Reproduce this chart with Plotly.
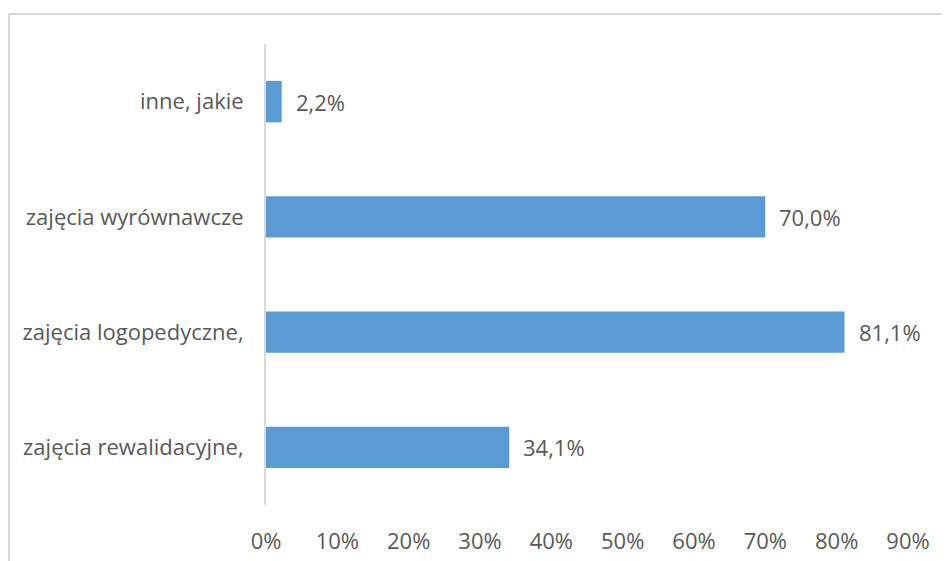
import plotly.graph_objects as go

categories = ["zajęcia rewalidacyjne,", "zajęcia logopedyczne,", "zajęcia wyrównawcze", "inne, jakie"]
values = [34.1, 81.1, 70.0, 2.2]
tick_vals = [0, 10, 20, 30, 40, 50, 60, 70, 80, 90]
tick_text = [f"{v}%" for v in tick_vals]
labels = [f"{v:.1f}%".replace(".", ",") for v in values]

FONT = "Open Sans"
GRAY = "#595959"
FS = 22

fig = go.Figure()
fig.add_trace(go.Bar(
    y=categories, x=values, orientation="h",
    marker=dict(color="#5B9BD5", line=dict(width=0)),
    width=0.36, hoverinfo="skip",
))

for c, v, t in zip(categories, values, labels):
    fig.add_annotation(x=v, y=c, text=t, showarrow=False, xanchor="left",
                       xshift=12, font=dict(family=FONT, size=FS, color=GRAY))

fig.add_shape(type="rect", xref="paper", yref="paper",
              x0=-0.4003, x1=1.3, y0=-0.3, y1=1.065,
              line=dict(color="#d9d9d9", width=2), fillcolor="rgba(0,0,0,0)", layer="below")

fig.update_layout(
    width=950, height=561,
    margin=dict(l=258, r=50, t=36, b=64),
    paper_bgcolor="white", plot_bgcolor="white",
    showlegend=False,
    font=dict(family=FONT, size=FS, color=GRAY),
    xaxis=dict(range=[0, 90], tickvals=tick_vals, ticktext=tick_text,
               showgrid=False, zeroline=False, showline=False,
               ticks="", ticklabelstandoff=21, fixedrange=True),
    yaxis=dict(showgrid=False, zeroline=False, showline=True,
               linecolor="#d9d9d9", linewidth=2, ticks="",
               ticklabelstandoff=16, fixedrange=True),
)

fig.write_html("out.html")
